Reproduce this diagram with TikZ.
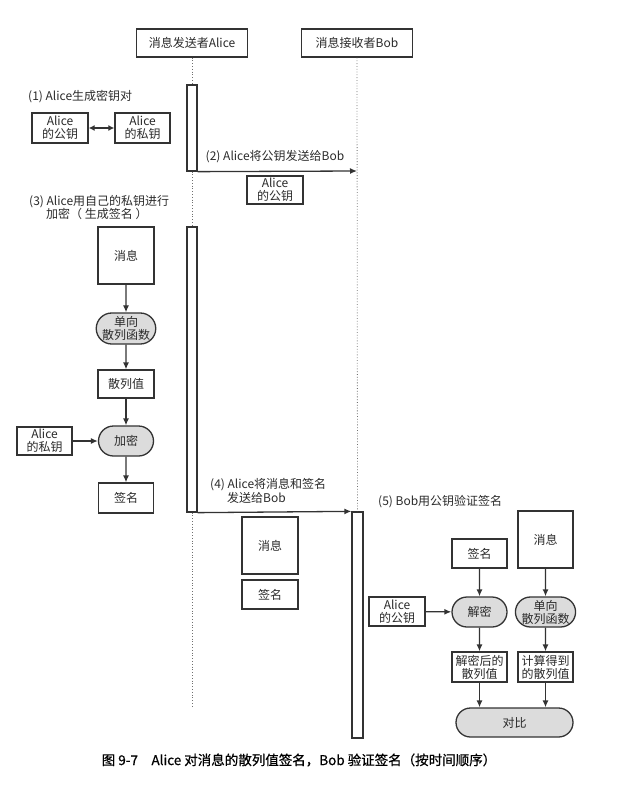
\documentclass[tikz,border=0pt]{standalone}
\usepackage{fontspec}
\setmainfont{Noto Sans CJK SC}
\newfontfamily\capfont[FakeBold=0.7]{Noto Sans CJK SC}
\usetikzlibrary{arrows.meta,shapes.misc}
\definecolor{ln}{HTML}{333333}
\definecolor{txt}{HTML}{2A2A2A}
\definecolor{pillgray}{HTML}{DCDCDC}
\begin{document}
\begin{tikzpicture}[x=1pt,y=-1pt,
  every node/.style={font=\fontsize{12}{13}\selectfont, text=txt},
  box/.style={draw=ln, line width=1.3pt, fill=white, align=center, inner sep=0pt},
  pill/.style={box, fill=pillgray, rounded rectangle},
  lbl/.style={anchor=west, inner sep=0pt},
  arr/.style={draw=ln, line width=1.3pt, -{Latex[length=7pt,width=6pt]}},
  life/.style={draw=ln!70, dotted, line width=0.8pt},
  bar/.style={draw=ln, line width=1.3pt, fill=white, inner sep=0pt}]
\useasboundingbox (0,0) rectangle (630,789);

% headers
\node[box, minimum width=111pt, minimum height=28pt] (ah) at (192,43) {消息发送者Alice};
\node[box, minimum width=111pt, minimum height=28pt] (bh) at (357,43) {消息接收者Bob};

% activation bars
\node[bar, minimum width=10pt, minimum height=86pt] (bar1) at (192,128) {};
\node[bar, minimum width=10pt, minimum height=285pt] (bar2) at (192,369.5) {};
\node[bar, minimum width=11pt, minimum height=226pt] (bar3) at (357.5,625) {};
\coordinate (aend) at (192,708);
\coordinate (bobA) at (357,171);

% lifelines
\draw[life] (ah.south) -- (bar1.north);
\draw[life] (bar1.south) -- (bar2.north);
\draw[life] (bar2.south) -- (aend);
\draw[life] (bh.south) -- (bar3.north);

% (1)
\node[lbl] (l1) at (28,97) {(1) Alice生成密钥对};
\node[box, minimum width=56pt, minimum height=30pt] (pub1) at (60,128) {Alice\\的公钥};
\node[box, minimum width=55pt, minimum height=30pt] (priv1) at (142.5,128) {Alice\\的私钥};
\draw[draw=ln, line width=1.3pt, {Latex[length=6pt,width=6pt]}-{Latex[length=6pt,width=6pt]}] (pub1) -- (priv1);

% (2)
\draw[arr] (bar1.south east) -- (bobA);
\node (l2) at (275,157) {(2) Alice将公钥发送给Bob};
\node[box, minimum width=56pt, minimum height=28pt] (pub2) at (275,190) {Alice\\的公钥};

% (3)
\node[lbl] (l3a) at (29,202) {(3) Alice用自己的私钥进行};
\node[lbl] (l3b) at (46,214) {加密（ 生成签名 ）};
\node[box, minimum width=56pt, minimum height=57pt] (msg1) at (126,255.5) {消息};
\node[pill, minimum width=56pt, minimum height=31pt] (hash1) at (126,328.5) {单向\\散列函数};
\node[box, minimum width=56pt, minimum height=28pt] (hv1) at (126,384) {散列值};
\node[pill, minimum width=55pt, minimum height=30pt] (enc) at (126,441) {加密};
\node[box, minimum width=55pt, minimum height=28pt] (priv2) at (44.5,441) {Alice\\的私钥};
\node[box, minimum width=55pt, minimum height=30pt] (sig1) at (126,498) {签名};
\draw[arr] (msg1) -- (hash1);
\draw[arr] (hash1) -- (hv1);
\draw[arr] (hv1) -- (enc);
\draw[arr] (priv2) -- (enc);
\draw[arr] (enc) -- (sig1);

% (4)
\node[lbl] (l4a) at (210,485) {(4) Alice将消息和签名};
\node[lbl] (l4b) at (227,498) {发送给Bob};
\draw[arr] (bar2.south east) -- (bar3.north west);
\node[box, minimum width=56pt, minimum height=57pt] (msg2) at (270,545.5) {消息};
\node[box, minimum width=56pt, minimum height=29pt] (sig2) at (270,594.5) {签名};

% (5)
\node[lbl] (l5) at (378,502) {(5) Bob用公钥验证签名};
\node[box, minimum width=55pt, minimum height=29pt] (sig3) at (479.5,553.5) {签名};
\node[box, minimum width=55pt, minimum height=57pt] (msg3) at (545.5,539.5) {消息};
\node[box, minimum width=56pt, minimum height=29pt] (pub3) at (397,611.5) {Alice\\的公钥};
\node[pill, minimum width=55pt, minimum height=30pt] (dec) at (479.5,612) {解密};
\node[pill, minimum width=56pt, minimum height=30pt] (hash2) at (545.5,612) {单向\\散列函数};
\node[box, minimum width=55pt, minimum height=30pt] (dhv) at (479.5,667) {解密后的\\散列值};
\node[box, minimum width=55pt, minimum height=30pt] (chv) at (545.5,667) {计算得到\\的散列值};
\node[pill, minimum width=117pt, minimum height=29pt] (cmp) at (514.5,722.5) {对比};
\draw[arr] (sig3) -- (dec);
\draw[arr] (pub3) -- (dec);
\draw[arr] (msg3) -- (hash2);
\draw[arr] (dec) -- (dhv);
\draw[arr] (hash2) -- (chv);
\draw[arr] (dhv.south) -- (dhv.south |- cmp.north);
\draw[arr] (chv.south) -- (chv.south |- cmp.north);

% caption
\node[font=\capfont\fontsize{13.5}{15}\selectfont, text=black] (cap) at (299,760) {图 9-7\quad Alice 对消息的散列值签名，Bob 验证签名（按时间顺序）};
\end{tikzpicture}
\end{document}
